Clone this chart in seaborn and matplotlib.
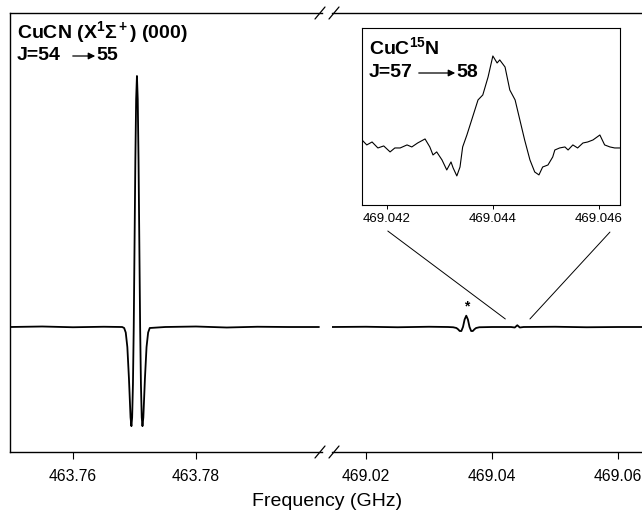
import matplotlib
matplotlib.use("Agg")
import matplotlib.pyplot as plt
from matplotlib.patches import ConnectionPatch, FancyArrowPatch
import seaborn as sns

# CuCN J=54->55 doublet, left window (GHz, arb. intensity)
cucn_freq = [463.7498, 463.7550, 463.7600, 463.7650, 463.7680, 463.76832, 463.76858, 463.76884,
             463.76910, 463.76936, 463.76950, 463.76962, 463.76975, 463.76988, 463.77001, 463.77014,
             463.77027, 463.77040, 463.77053, 463.77066, 463.77079, 463.77092, 463.77105, 463.77118,
             463.77130, 463.77144, 463.77170, 463.77196, 463.77222, 463.77248, 463.7750, 463.7800,
             463.7850, 463.7900, 463.7950, 463.8000]
cucn_int = [0.0, 0.002, -0.001, 0.001, 0.0, -0.004, -0.022, -0.080,
            -0.205, -0.360, -0.395, -0.360, -0.229, 0.0, 0.330, 0.662,
            0.908, 1.0, 0.908, 0.662, 0.330, 0.0, -0.229, -0.360,
            -0.395, -0.360, -0.205, -0.080, -0.022, -0.004, 0.0, 0.002,
            -0.002, 0.001, 0.0, 0.0]

# right window: starred line + weak CuC15N line
c15n_freq = [469.0146, 469.0200, 469.0250, 469.0300, 469.0330, 469.03382, 469.03434, 469.03460,
             469.03486, 469.03512, 469.03538, 469.03564, 469.03590, 469.03616, 469.03642, 469.03668,
             469.03694, 469.03720, 469.03746, 469.03798, 469.0400, 469.0430, 469.0436, 469.0440,
             469.0444, 469.0450, 469.0500, 469.0550, 469.0600, 469.0641]
c15n_int = [0.0, 0.001, -0.001, 0.001, 0.0, -0.001, -0.004, -0.009,
            -0.016, -0.016, 0.0, 0.030, 0.045, 0.030, 0.0, -0.016,
            -0.016, -0.009, -0.004, -0.001, 0.0, 0.0, -0.002, 0.007,
            -0.002, 0.0, 0.001, -0.001, 0.0, 0.0]

# inset: CuC15N J=57->58 scan
inset_freq = [469.04153, 469.04162, 469.04172, 469.04183, 469.04194, 469.04206, 469.04215, 469.04225,
              469.04238, 469.04247, 469.04258, 469.04272, 469.04281, 469.04287, 469.04294, 469.04304,
              469.04313, 469.04321, 469.04325, 469.04332, 469.04338, 469.04343, 469.04351, 469.04360,
              469.04372, 469.04381, 469.04391, 469.04400, 469.04408, 469.04413, 469.04423, 469.04432,
              469.04442, 469.04451, 469.04460, 469.04470, 469.04479, 469.04487, 469.04494, 469.04504,
              469.04513, 469.04517, 469.04526, 469.04536, 469.04542, 469.04551, 469.04560, 469.04570,
              469.04579, 469.04589, 469.04602, 469.04611, 469.04621, 469.04630, 469.04640]
inset_int = [0.087, 0.033, 0.065, 0.0, 0.022, -0.043, 0.0, 0.0,
             0.033, 0.011, 0.054, 0.098, 0.011, -0.076, -0.043, -0.130,
             -0.239, -0.152, -0.217, -0.304, -0.207, 0.011, 0.141, 0.304,
             0.522, 0.576, 0.772, 1.0, 0.924, 0.957, 0.880, 0.630,
             0.522, 0.304, 0.087, -0.130, -0.261, -0.293, -0.207, -0.185,
             -0.098, -0.022, 0.0, 0.011, -0.022, 0.033, 0.0, 0.054,
             0.065, 0.087, 0.141, 0.033, 0.011, 0.0, 0.0]

left_ticks = [463.76, 463.78]
right_ticks = [469.02, 469.04, 469.06]
inset_ticks = [469.042, 469.044, 469.046]
star_freq = 469.0359
zoom_lo, zoom_hi = 469.0421, 469.0460

sns.set_style("ticks")
plt.rcParams['font.family'] = ['Liberation Sans', 'DejaVu Sans']
plt.rcParams['mathtext.fontset'] = 'custom'
plt.rcParams['mathtext.rm'] = 'Liberation Sans:bold'
plt.rcParams['mathtext.it'] = 'Liberation Sans:bold'
plt.rcParams['mathtext.bf'] = 'Liberation Sans:bold'
for key in ['text.color', 'axes.edgecolor', 'xtick.color', 'axes.labelcolor']:
    plt.rcParams[key] = 'black'

W, H = 642, 517
fig = plt.figure(figsize=(W / 100, H / 100), dpi=100)

def px(x, y):
    return x / W, 1 - y / H

ax1 = fig.add_axes([10 / W, 65 / H, 312 / W, 439 / H])
ax2 = fig.add_axes([332 / W, 65 / H, 312 / W, 439 / H])
ymin, ymax = -0.498, 1.251

sns.lineplot(x=cucn_freq, y=cucn_int, ax=ax1, color="black", lw=1.3, estimator=None, sort=False)
sns.lineplot(x=c15n_freq, y=c15n_int, ax=ax2, color="black", lw=1.3, estimator=None, sort=False)

ax1.set_xlim(463.74976, 463.80049)
ax2.set_xlim(469.0146, 469.0641)
for ax, ticks in [(ax1, left_ticks), (ax2, right_ticks)]:
    ax.set_ylim(ymin, ymax)
    ax.set_yticks([])
    ax.set_xticks(ticks)
    ax.set_xticklabels([f"{t:.2f}" for t in ticks])
    ax.tick_params(axis="x", direction="out", length=5, width=0.8, labelsize=11.3, pad=7)
    ax.spines["right"].set_visible(False)
    for s in ax.spines.values():
        s.set_linewidth(1.0)
ax2.spines["left"].set_visible(False)

# break marks
dx, dy = 5 / 312, 6 / 439
for ax, xc in [(ax1, 1 - 2 / 312), (ax2, 2 / 312)]:
    for yc in (0, 1):
        ax.plot([xc - dx, xc + dx], [yc - dy, yc + dy], transform=ax.transAxes,
                color="black", lw=0.9, clip_on=False)

ax2.text(star_freq, 0.08, "*", ha="center", va="center", fontsize=10, fontweight="bold")

# inset
axin = fig.add_axes([362 / W, 312 / H, 258 / W, 177 / H])
sns.lineplot(x=inset_freq, y=inset_int, ax=axin, color="black", lw=0.8, estimator=None, sort=False)
axin.set_xlim(469.04153, 469.04640)
axin.set_ylim(-0.62, 1.304)
axin.set_yticks([])
axin.set_xticks(inset_ticks)
axin.set_xticklabels([f"{t:.3f}" for t in inset_ticks])
axin.tick_params(axis="x", direction="out", length=3, width=0.7, labelsize=9.5, pad=3)
for s in axin.spines.values():
    s.set_linewidth(0.8)

for xa, xb in [((0.10, -0.147), zoom_lo), ((0.961, -0.153), zoom_hi)]:
    con = ConnectionPatch(xyA=xa, coordsA=axin.transAxes, xyB=(xb, 0.032), coordsB=ax2.transData,
                          color="black", lw=0.7)
    fig.add_artist(con)

# labels
bold = dict(fontsize=14, fontweight="bold", va="center", ha="left")
fig.text(*px(17, 32), r"CuCN (X$^1\Sigma^+$) (000)", **bold)
fig.text(*px(17, 56), "J=54", **bold)
fig.text(*px(96, 56), "55", **bold)
fig.add_artist(FancyArrowPatch(px(70, 56), px(98, 56), transform=fig.transFigure,
               arrowstyle="-|>", mutation_scale=10, lw=0.9, color="black"))

fig.text(*px(369, 47), r"CuC$^{15}$N", **bold)
fig.text(*px(369, 73), "J=57", **bold)
fig.text(*px(456, 73), "58", **bold)
fig.add_artist(FancyArrowPatch(px(416, 73), px(458, 73), transform=fig.transFigure,
               arrowstyle="-|>", mutation_scale=10, lw=0.9, color="black"))

fig.text(*px(327, 502), "Frequency (GHz)", ha="center", va="center", fontsize=14)

fig.savefig("out.png", dpi=100)
